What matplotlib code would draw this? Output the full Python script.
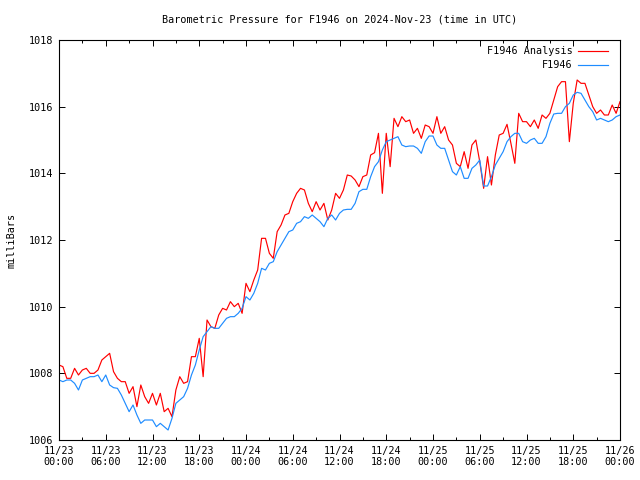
import matplotlib
matplotlib.use("Agg")
import matplotlib.pyplot as plt
import matplotlib.dates as mdates
import pandas as pd

# pressure readings every 30 minutes, starting 2024-11-23 00:00 UTC
start = "2024-11-23 00:00"
end = "2024-11-26 00:00"
step = "30min"

analysis = [
    1008.25, 1008.2, 1007.85, 1007.85, 1008.15, 1007.95, 1008.1, 1008.15, 1008.0, 1008.0, 1008.1, 1008.4,
    1008.5, 1008.6, 1008.05, 1007.85, 1007.75, 1007.75, 1007.4, 1007.6, 1007.0, 1007.65, 1007.3, 1007.1,
    1007.4, 1007.05, 1007.4, 1006.85, 1006.95, 1006.7, 1007.5, 1007.9, 1007.7, 1007.75, 1008.5, 1008.5,
    1009.05, 1007.9, 1009.6, 1009.4, 1009.35, 1009.75, 1009.95, 1009.9, 1010.15, 1010.0, 1010.1, 1009.8,
    1010.7, 1010.45, 1010.8, 1011.1, 1012.05, 1012.05, 1011.6, 1011.45, 1012.25, 1012.45, 1012.75, 1012.8,
    1013.15, 1013.4, 1013.55, 1013.5, 1013.1, 1012.85, 1013.15, 1012.9, 1013.1, 1012.6, 1012.9, 1013.4,
    1013.25, 1013.5, 1013.95, 1013.92, 1013.8, 1013.6, 1013.9, 1013.95, 1014.55, 1014.62, 1015.2, 1013.4,
    1015.2, 1014.2, 1015.65, 1015.4, 1015.7, 1015.55, 1015.6, 1015.2, 1015.35, 1015.05, 1015.45, 1015.4,
    1015.2, 1015.7, 1015.2, 1015.4, 1015.0, 1014.85, 1014.3, 1014.2, 1014.65, 1014.15, 1014.85, 1015.0,
    1014.35, 1013.55, 1014.5, 1013.65, 1014.55, 1015.15, 1015.2, 1015.47, 1014.9, 1014.3, 1015.8, 1015.55,
    1015.55, 1015.4, 1015.6, 1015.35, 1015.75, 1015.65, 1015.8, 1016.2, 1016.6, 1016.75, 1016.75, 1014.95,
    1016.1, 1016.8, 1016.7, 1016.7, 1016.35, 1016.0, 1015.8, 1015.9, 1015.75, 1015.75, 1016.05, 1015.8,
    1016.15,
]

station = [
    1007.8, 1007.75, 1007.8, 1007.8, 1007.7, 1007.5, 1007.8, 1007.85, 1007.9, 1007.9, 1007.95, 1007.75,
    1007.95, 1007.65, 1007.57, 1007.55, 1007.35, 1007.1, 1006.85, 1007.05, 1006.75, 1006.5, 1006.6, 1006.6,
    1006.6, 1006.4, 1006.5, 1006.4, 1006.3, 1006.65, 1007.1, 1007.2, 1007.3, 1007.55, 1007.95, 1008.25,
    1008.7, 1009.1, 1009.25, 1009.4, 1009.35, 1009.35, 1009.5, 1009.65, 1009.7, 1009.7, 1009.8, 1009.95,
    1010.3, 1010.2, 1010.4, 1010.7, 1011.15, 1011.1, 1011.3, 1011.35, 1011.65, 1011.85, 1012.05, 1012.25,
    1012.3, 1012.5, 1012.55, 1012.7, 1012.65, 1012.75, 1012.65, 1012.55, 1012.4, 1012.65, 1012.75, 1012.6,
    1012.8, 1012.9, 1012.92, 1012.92, 1013.1, 1013.45, 1013.52, 1013.52, 1013.9, 1014.2, 1014.35, 1014.7,
    1014.95, 1015.0, 1015.05, 1015.1, 1014.85, 1014.8, 1014.82, 1014.82, 1014.75, 1014.6, 1014.95, 1015.12,
    1015.12, 1014.85, 1014.75, 1014.75, 1014.4, 1014.05, 1013.95, 1014.2, 1013.85, 1013.85, 1014.15, 1014.25,
    1014.4, 1013.62, 1013.62, 1013.9, 1014.25, 1014.45, 1014.65, 1014.95, 1015.1, 1015.2, 1015.2, 1014.95,
    1014.9, 1015.0, 1015.05, 1014.9, 1014.9, 1015.1, 1015.5, 1015.78, 1015.8, 1015.8, 1016.0, 1016.1,
    1016.35, 1016.43, 1016.4, 1016.2, 1016.0, 1015.85, 1015.6, 1015.65, 1015.6, 1015.55, 1015.6, 1015.7,
    1015.75,
]

labels = ["F1946 Analysis", "F1946"]
colors = ["#ff0000", "#1e8cff"]

font = "DejaVu Sans Mono"
fs = 7.3

t_red = pd.date_range(start, periods=len(analysis), freq=step)
t_blue = pd.date_range(start, periods=len(station), freq=step)

fig = plt.figure(figsize=(6.4, 4.8), dpi=100)
ax = fig.add_axes([59 / 640, 40 / 480, 561 / 640, 400 / 480])

ax.plot(t_red, analysis, color=colors[0], lw=0.85, label=labels[0])
ax.plot(t_blue, station, color=colors[1], lw=0.85, label=labels[1])

ax.set_xlim(pd.Timestamp(start), pd.Timestamp(end))
ax.set_ylim(1006, 1018)
ax.set_yticks(range(1006, 1019, 2))

ax.xaxis.set_major_locator(mdates.HourLocator(byhour=[0, 6, 12, 18]))
ax.xaxis.set_minor_locator(mdates.HourLocator(interval=3))
ax.xaxis.set_major_formatter(mdates.DateFormatter("%m/%d\n%H:%M"))

ax.tick_params(which="both", direction="in", top=True, right=True,
               labelsize=fs, width=0.7, colors="black")
ax.tick_params(which="major", length=4.5, pad=4)
ax.tick_params(which="minor", length=2.5)
for lab in ax.get_xticklabels() + ax.get_yticklabels():
    lab.set_family(font)
for sp in ax.spines.values():
    sp.set_linewidth(0.8)

ax.set_ylabel("milliBars", family=font, fontsize=fs, labelpad=9)

fig.text(340 / 640, 1 - 20 / 480, "Barometric Pressure for F1946 on 2024-Nov-23 (time in UTC)",
         ha="center", va="center", family=font, fontsize=fs)

leg = ax.legend(loc="upper right", bbox_to_anchor=(0.99, 1.0), frameon=False, markerfirst=False,
                prop={"family": font, "size": fs}, handlelength=3.0, handletextpad=0.5,
                labelspacing=0.4, borderaxespad=0.2)

fig.savefig("out.png", dpi=100)
